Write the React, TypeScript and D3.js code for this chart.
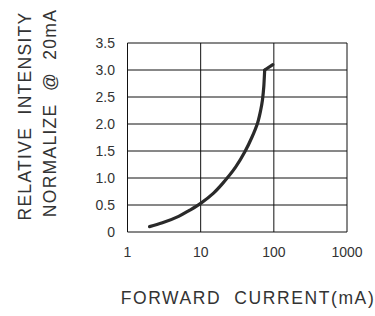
import React from "react";
import * as d3 from "d3";

// forward current (mA) vs relative intensity
const currentMa = [2, 3, 5, 7, 10, 15, 20, 30, 40, 50, 60, 66, 70, 73, 75, 97];
const intensity = [0.1, 0.17, 0.29, 0.4, 0.53, 0.72, 0.9, 1.2, 1.48, 1.75, 2.02, 2.25, 2.45, 2.7, 3.0, 3.1];

const xTicks = [1, 10, 100, 1000];
const yTicks = [0, 0.5, 1.0, 1.5, 2.0, 2.5, 3.0, 3.5];
const yTickLabels = ["0", "0.5", "1.0", "1.5", "2.0", "2.5", "3.0", "3.5"];

const yTitle1 = "RELATIVE  INTENSITY";
const yTitle2 = "NORMALIZE  @  20mA";
const xTitle = "FORWARD  CURRENT(mA)";

const W = 375;
const H = 316;
const plot = { left: 127.5, right: 347, top: 43, bottom: 232 };
const font = "'Liberation Sans', 'DejaVu Sans', sans-serif";
const ink = "#2a2a2a";

export default function App() {
  const x = d3.scaleLog().domain([1, 1000]).range([plot.left, plot.right]);
  const y = d3.scaleLinear().domain([0, 3.5]).range([plot.bottom, plot.top]);

  const pts = currentMa.map((c, i) => [c, intensity[i]] as [number, number]);
  // smooth rise up to the knee, then the short straight kink at the top
  const knee = pts.length - 1;
  const smooth = d3
    .line<[number, number]>()
    .x((d) => x(d[0]))
    .y((d) => y(d[1]))
    .curve(d3.curveCatmullRom.alpha(0.5));
  const straight = d3
    .line<[number, number]>()
    .x((d) => x(d[0]))
    .y((d) => y(d[1]));

  return (
    <svg width={W} height={H} style={{ position: "absolute", left: 0, top: 0, background: "#fff" }}>
      {/* grid */}
      {yTicks.map((t) => (
        <line key={"h" + t} x1={plot.left} x2={plot.right} y1={y(t)} y2={y(t)} stroke="#111" strokeWidth={1} />
      ))}
      {xTicks.map((t) => (
        <line key={"v" + t} x1={x(t)} x2={x(t)} y1={plot.top} y2={plot.bottom} stroke="#111" strokeWidth={1} />
      ))}

      {/* curve */}
      <path d={smooth(pts.slice(0, knee)) || ""} fill="none" stroke={ink} strokeWidth={3.2} strokeLinecap="round" />
      <path d={straight(pts.slice(knee - 1)) || ""} fill="none" stroke={ink} strokeWidth={3.2} strokeLinecap="round" />

      {/* y tick labels */}
      {yTicks.map((t, i) => (
        <text key={"yl" + t} x={115} y={y(t)} dy="0.36em" textAnchor="end" fontFamily={font} fontSize={14} fill="#333">
          {yTickLabels[i]}
        </text>
      ))}
      {/* x tick labels */}
      {xTicks.map((t) => (
        <text key={"xl" + t} x={x(t)} y={plot.bottom + 25} textAnchor="middle" fontFamily={font} fontSize={14} fill="#333">
          {t}
        </text>
      ))}

      {/* axis titles */}
      <text
        transform={`translate(31, 116) rotate(-90)`}
        textAnchor="middle"
        fontFamily={font}
        fontSize={17.5}
        letterSpacing={1.3}
        fill="#333"
        style={{ whiteSpace: "pre" }}
      >
        {yTitle1}
      </text>
      <text
        transform={`translate(56, 113) rotate(-90)`}
        textAnchor="middle"
        fontFamily={font}
        fontSize={17.5}
        letterSpacing={1.3}
        fill="#333"
        style={{ whiteSpace: "pre" }}
      >
        {yTitle2}
      </text>
      <text
        x={248}
        y={304}
        textAnchor="middle"
        fontFamily={font}
        fontSize={17.5}
        letterSpacing={1.6}
        fill="#333"
        style={{ whiteSpace: "pre" }}
      >
        {xTitle}
      </text>
    </svg>
  );
}
